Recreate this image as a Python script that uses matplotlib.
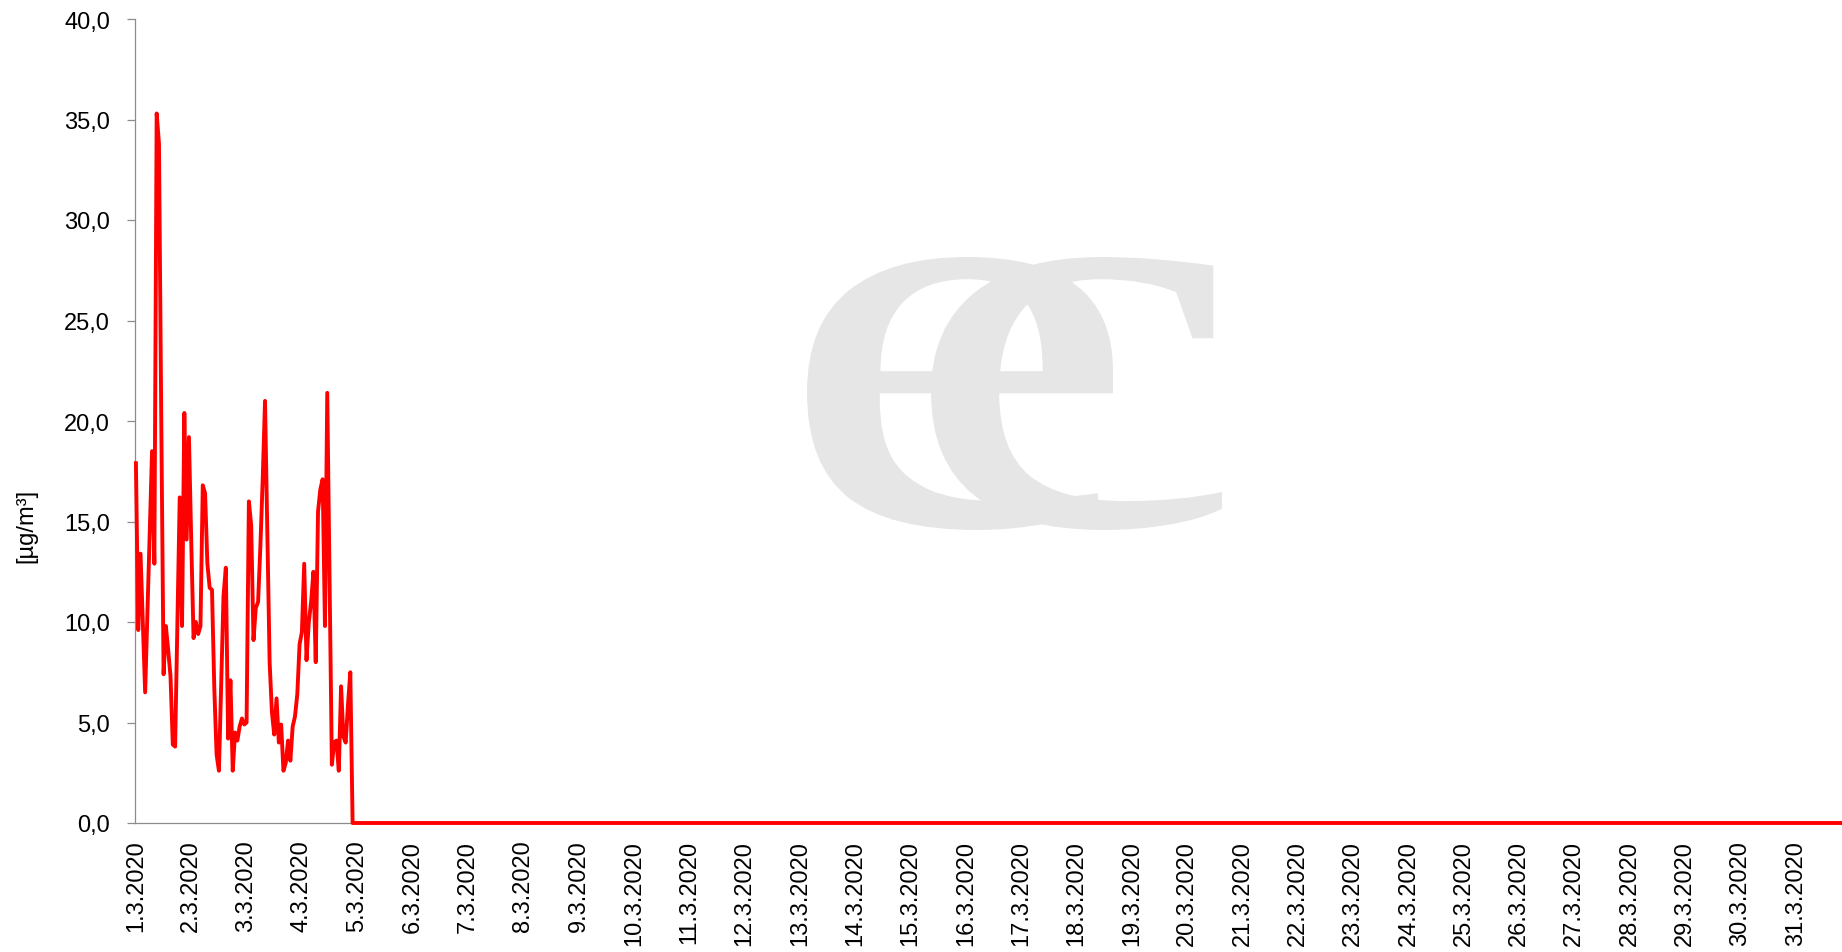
import matplotlib
matplotlib.use("Agg")
import matplotlib.pyplot as plt
from matplotlib.ticker import FuncFormatter
from matplotlib.textpath import TextPath
from matplotlib.patches import PathPatch
from matplotlib.font_manager import FontProperties
from matplotlib.transforms import Affine2D, IdentityTransform

# hourly concentrations for March 2020, measured part then zeros
measured = [17.9, 9.6, 13.4, 10.0, 6.5, 10.5, 14.5, 18.5, 12.9, 35.3,
            33.8, 20.0, 7.4, 9.8, 8.6, 7.3, 3.9, 3.8, 10.0, 16.2,
            9.8, 20.4, 14.1, 19.2, 14.0, 9.2, 10.0, 9.4, 9.8, 16.8,
            16.4, 12.9, 11.7, 11.6, 6.7, 3.4, 2.6, 7.0, 11.3, 12.7,
            4.2, 7.1, 2.6, 4.5, 4.1, 4.8, 5.2, 4.9, 5.0, 16.0,
            14.8, 9.1, 10.7, 11.0, 13.8, 17.1, 21.0, 14.6, 8.0, 5.5,
            4.4, 6.2, 4.0, 4.9, 2.6, 3.0, 4.1, 3.1, 4.8, 5.3,
            6.4, 8.9, 9.5, 12.9, 8.1, 10.0, 11.0, 12.5, 8.0, 15.5,
            16.6, 17.1, 9.8, 21.4, 12.2, 2.9, 4.0, 4.1, 2.6, 6.8,
            4.3, 4.0, 5.9, 7.5]
n_hours = 31 * 24
values = measured + [0.0] * (n_hours - len(measured))
hours = list(range(n_hours))

day_labels = [f"{d}.3.2020" for d in range(1, 32)]
day_ticks = [24 * (d - 1) for d in range(1, 32)]
y_ticks = [0, 5, 10, 15, 20, 25, 30, 35, 40]

W, H = 1842, 953
fig = plt.figure(figsize=(W / 100, H / 100), dpi=100)
plt.rcParams['font.family'] = ['Liberation Sans', 'DejaVu Sans']

# axes box in pixel coordinates
left, right, top, bottom = 135, 1842, 20, 824
ax = fig.add_axes([left / W, (H - bottom) / H, (right - left) / W, (bottom - top) / H])
ax.set_facecolor('none')


def logo_letter(ch, x0, x1, y0, y1):
    # light grey letter of the watermark, placed in a pixel box
    tp = TextPath((0, 0), ch, size=100, prop=FontProperties(family='Liberation Serif'))
    ext = tp.get_extents()
    tr = (Affine2D().translate(-ext.x0, -ext.y0)
          .scale((x1 - x0) / ext.width, (y1 - y0) / ext.height)
          .translate(x0, H - y1))
    patch = PathPatch(tr.transform_path(tp), facecolor='#e6e6e6', edgecolor='none',
                      transform=IdentityTransform(), zorder=-1)
    fig.add_artist(patch)


logo_letter('e', 807, 1113, 258, 531)
logo_letter('c', 931, 1222, 258, 531)

ax.plot(hours, values, color='#ff0000', linewidth=2.8, zorder=3, clip_on=False)

ax.set_xlim(-0.4, 740.1)
ax.set_ylim(0, 40)

ax.set_xticks(day_ticks)
ax.set_xticklabels(day_labels, rotation=90, fontsize=17)
ax.set_yticks(y_ticks)
ax.yaxis.set_major_formatter(FuncFormatter(lambda v, p: f"{v:.1f}".replace('.', ',')))
ax.tick_params(axis='y', labelsize=17, length=6, width=0.9, color='#8c8c8c', pad=12)
ax.tick_params(axis='x', length=0, pad=12)

for s in ['top', 'right']:
    ax.spines[s].set_visible(False)
for s in ['left', 'bottom']:
    ax.spines[s].set_color('#8c8c8c')
    ax.spines[s].set_linewidth(0.9)

fig.text(26 / W, (H - 526) / H, '[µg/m³]', rotation=90, fontsize=17,
         ha='center', va='center')

fig.savefig('out.png', dpi=100)
